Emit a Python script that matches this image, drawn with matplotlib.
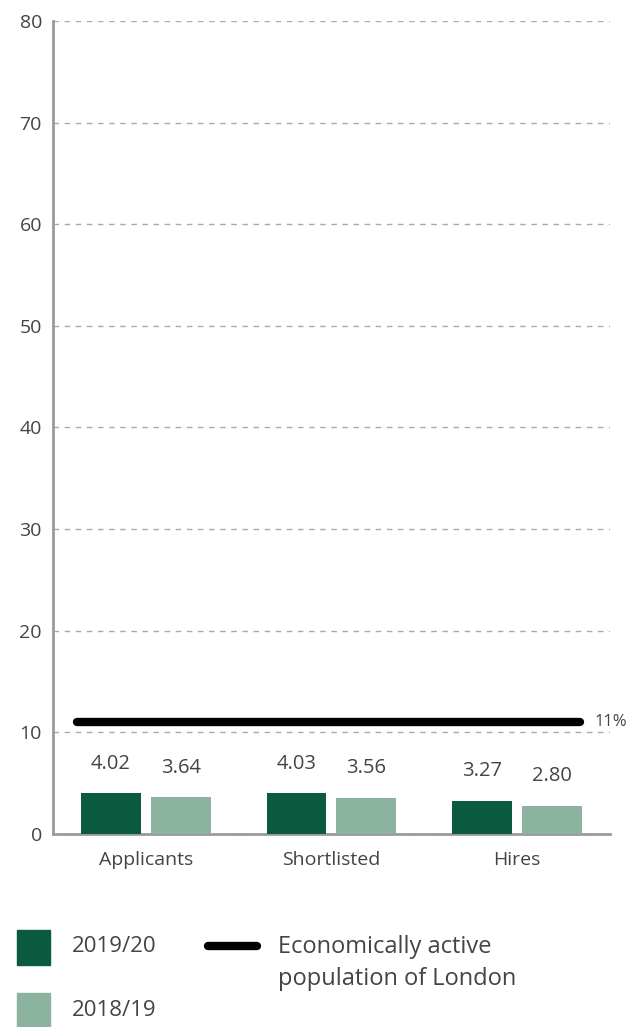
import numpy as np
import matplotlib.pyplot as plt
from matplotlib.patches import Rectangle
from matplotlib.lines import Line2D

plt.rcParams['font.family'] = ['Open Sans', 'DejaVu Sans']

stages = ['Applicants', 'Shortlisted', 'Hires']
vals_1920 = [4.02, 4.03, 3.27]
vals_1819 = [3.64, 3.56, 2.80]
london_pct = 11
yticks = [0, 10, 20, 30, 40, 50, 60, 70, 80]

dark = '#0a5a40'
light = '#8bb39f'
txt = '#444444'
axis_grey = '#9a9a9a'

fig = plt.figure(figsize=(6.32, 10.27), dpi=100)
ax = fig.add_axes([0.0839, 0.1879, 0.8811, 0.7917])

x = np.arange(len(stages))
w = 0.3226
off = 0.188
b1 = ax.bar(x - off, vals_1920, w, color=dark, zorder=3)
b2 = ax.bar(x + off, vals_1819, w, color=light, zorder=3)

for bars, vals in ((b1, vals_1920), (b2, vals_1819)):
    for r, v in zip(bars, vals):
        ax.annotate(f'{v:.2f}', (r.get_x() + r.get_width() / 2, v),
                    xytext=(0, 14), textcoords='offset points',
                    ha='center', va='bottom', fontsize=14.5, color=txt)

# London benchmark line
ax.plot([-0.37, 2.34], [london_pct, london_pct], color='black', lw=6,
        solid_capstyle='round', zorder=4)
ax.text(2.415, london_pct, f'{london_pct}%', fontsize=12, color=txt,
        va='center', ha='left', clip_on=False)

ax.set_xlim(-0.5, 2.5)
ax.set_ylim(0, 80)
ax.set_yticks(yticks)
ax.set_xticks(x)
ax.set_xticklabels(stages)
ax.tick_params(axis='both', length=0, labelsize=14, labelcolor=txt)
ax.tick_params(axis='x', pad=12)
ax.tick_params(axis='y', pad=8)
ax.yaxis.grid(True, linestyle=(0, (4, 4)), color='#aaaaaa', lw=1, zorder=0)
for s in ('top', 'right'):
    ax.spines[s].set_visible(False)
for s in ('left', 'bottom'):
    ax.spines[s].set_color(axis_grey)
    ax.spines[s].set_linewidth(2)

# legend drawn in figure coordinates
fig.add_artist(Rectangle((17 / 632, 1 - 965 / 1027), 33 / 632, 35 / 1027,
                         transform=fig.transFigure, color=dark))
fig.add_artist(Rectangle((17 / 632, 1 - 1030 / 1027), 33 / 632, 37 / 1027,
                         transform=fig.transFigure, color=light))
fig.text(72 / 632, 1 - 947 / 1027, '2019/20', fontsize=16, color=txt, va='center')
fig.text(72 / 632, 1 - 1010 / 1027, '2018/19', fontsize=16, color=txt, va='center')
fig.add_artist(Line2D([208 / 632, 257 / 632], [1 - 946 / 1027] * 2,
                      transform=fig.transFigure, color='black', lw=6,
                      solid_capstyle='round'))
fig.text(278 / 632, 1 - 947 / 1027, 'Economically active', fontsize=17,
         color=txt, va='center')
fig.text(278 / 632, 1 - 979 / 1027, 'population of London', fontsize=17,
         color=txt, va='center')

fig.savefig('out.png', dpi=100)
